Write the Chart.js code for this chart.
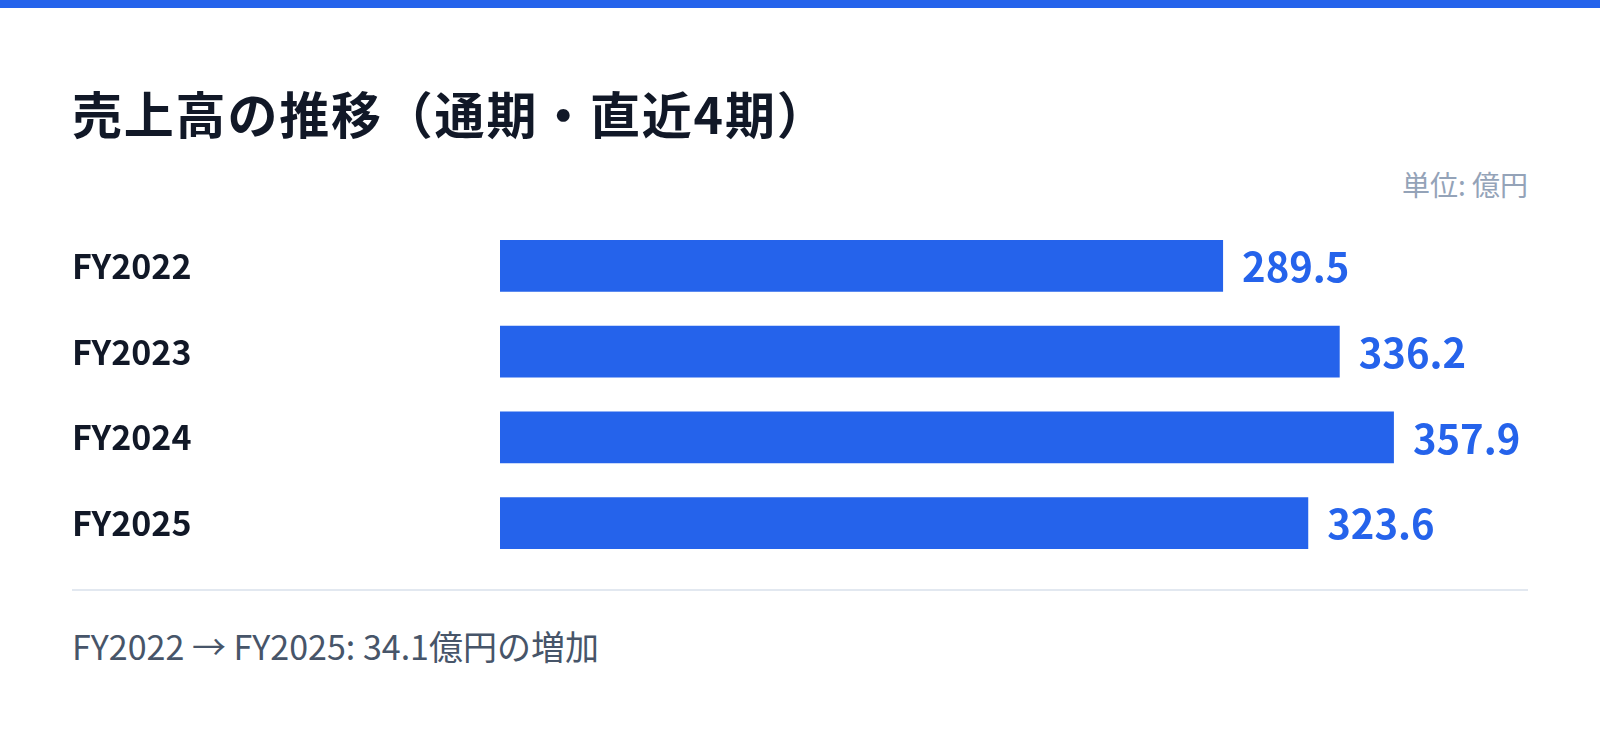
<!DOCTYPE html>
<html lang="ja">
<head>
<meta charset="utf-8">
<script src="https://cdn.jsdelivr.net/npm/chart.js@4"></script>
<style>
  html, body { margin: 0; padding: 0; background: #ffffff; }
  body { width: 1600px; height: 733px; position: relative; overflow: hidden; font-family: "Noto Sans CJK JP", "Noto Sans", sans-serif; }
  #topbar { position: absolute; left: 0; top: 0; width: 1600px; height: 8px; background: #2563eb; }
  #title { position: absolute; left: 72px; top: 80px; height: 64px; line-height: 64px; font-size: 50px; font-weight: 700; color: #111827; white-space: nowrap; letter-spacing: 1.8px; }
  #unit { position: absolute; right: 72px; top: 166px; height: 36px; line-height: 36px; font-size: 28px; color: #94a3b8; white-space: nowrap; }
  #wrap { position: absolute; left: 72px; top: 223px; width: 1456px; height: 343px; }
  #divider { position: absolute; left: 72px; top: 589px; width: 1456px; height: 2px; background: #e2e8f0; }
  #footer { position: absolute; left: 72px; top: 624px; height: 44px; line-height: 44px; font-size: 34px; color: #475569; white-space: nowrap; }
</style>
</head>
<body>
<div id="topbar"></div>
<div id="title">売上高の推移（通期・直近4期）</div>
<div id="unit">単位: 億円</div>
<div id="wrap"><canvas id="c"></canvas></div>
<div id="divider"></div>
<div id="footer">FY2022 → FY2025: 34.1億円の増加</div>
<script>
const categories = ["FY2022", "FY2023", "FY2024", "FY2025"];
const salesValues = [289.5, 336.2, 357.9, 323.6];
const valueLabels = ["289.5", "336.2", "357.9", "323.6"];

const axisMax = Math.max(...salesValues) * 1.15;

const valueLabelPlugin = {
  id: 'valueLabels',
  afterDatasetsDraw(chart) {
    const ctx = chart.ctx;
    const meta = chart.getDatasetMeta(0);
    ctx.save();
    ctx.font = '700 40px "Noto Sans CJK JP", "Noto Sans", sans-serif';
    ctx.fillStyle = '#2563eb';
    ctx.textAlign = 'left';
    ctx.textBaseline = 'middle';
    meta.data.forEach((bar, i) => {
      ctx.fillText(valueLabels[i], bar.x + 19, bar.y + 1);
    });
    ctx.restore();
  }
};

new Chart(document.getElementById('c'), {
  type: 'bar',
  data: {
    labels: categories,
    datasets: [{
      data: salesValues,
      backgroundColor: '#2563eb',
      borderWidth: 0,
      barPercentage: 0.605,
      categoryPercentage: 1.0
    }]
  },
  options: {
    indexAxis: 'y',
    responsive: true,
    maintainAspectRatio: false,
    animation: false,
    layout: { padding: 0 },
    plugins: { legend: { display: false }, tooltip: { enabled: false } },
    scales: {
      x: { display: false, min: 0, max: axisMax },
      y: {
        grid: { display: false },
        border: { display: false },
        ticks: {
          crossAlign: 'far',
          padding: 0,
          color: '#111827',
          font: { family: '"Noto Sans CJK JP", "Noto Sans", sans-serif', size: 34, weight: '700' }
        },
        afterFit(scale) {
          scale.width = 428;
          scale.paddingTop = 0;
          scale.paddingBottom = 0;
        }
      }
    }
  },
  plugins: [valueLabelPlugin]
});
</script>
</body>
</html>
